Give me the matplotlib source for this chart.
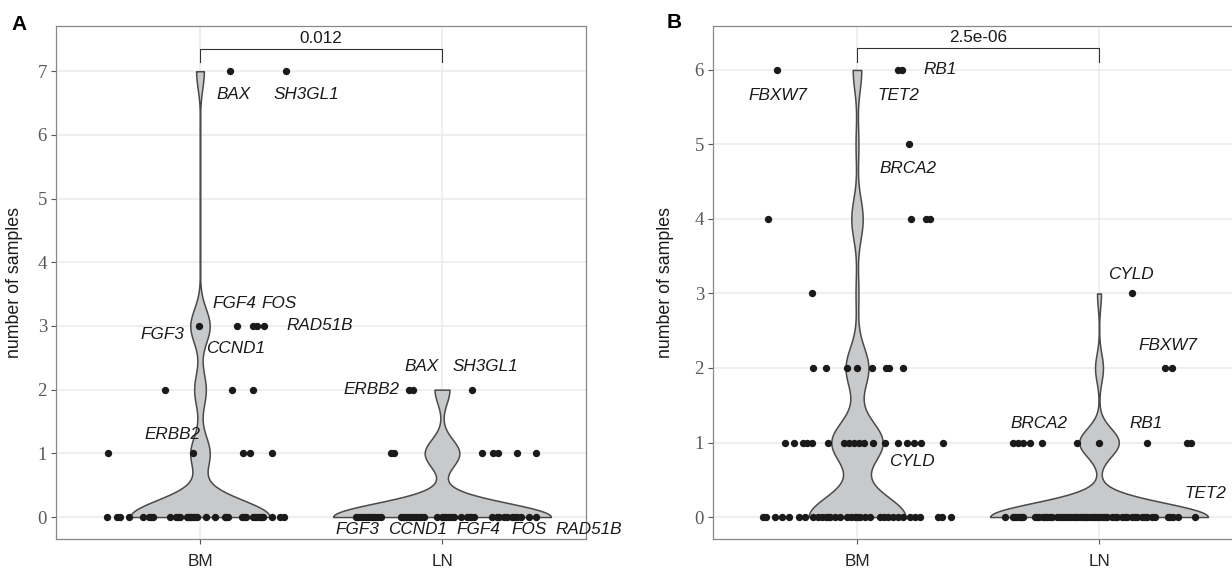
import numpy as np
import matplotlib
matplotlib.use("Agg")
import matplotlib.pyplot as plt

groups = ["BM", "LN"]

# panel A: number of samples per gene, with horizontal jitter offsets
a_bm_n = [0] * 36 + [1] * 5 + [2] * 3 + [3] * 5 + [7] * 2
a_bm_dx = [-0.383, -0.342, -0.329, -0.292, -0.235, -0.210, -0.193, -0.123, -0.099,
           -0.082, -0.053, -0.041, -0.029, -0.012, 0.025, 0.062, 0.103, 0.115,
           0.173, 0.189, 0.218, 0.235, 0.247, 0.259, 0.296, 0.329, 0.346,
           -0.202, -0.091, -0.049, -0.021, 0.107, 0.181, 0.226, 0.251, -0.037,
           -0.379, -0.029, 0.177, 0.206, 0.296,
           -0.144, 0.132, 0.218,
           -0.004, 0.152, 0.218, 0.235, 0.263,
           0.123, 0.354]
a_ln_n = [0] * 44 + [1] * 7 + [2] * 3
a_ln_dx = [-0.354, -0.333, -0.313, -0.292, -0.276, -0.251, -0.169, -0.148, -0.128,
           -0.107, -0.095, -0.074, -0.021, 0.0, 0.016, 0.037, 0.049, 0.078,
           0.103, 0.119, 0.132, 0.206, 0.226, 0.255, 0.267, 0.288, 0.309,
           0.325, 0.358, 0.387,
           -0.346, -0.325, -0.305, -0.284, -0.263, -0.160, -0.136, -0.115,
           -0.086, 0.008, 0.029, 0.111, 0.235, 0.296,
           -0.210, -0.198, 0.165, 0.210, 0.230, 0.309, 0.387,
           -0.136, -0.119, 0.123]

# panel B
b_bm_n = [0] * 34 + [1] * 18 + [2] * 8 + [3] + [4] * 4 + [5] + [6] * 3
b_bm_dx = [-0.388, -0.376, -0.339, -0.310, -0.281, -0.240, -0.215, -0.182, -0.161,
           -0.145, -0.128, -0.112, -0.091, -0.070, -0.041, -0.025, -0.008, 0.012,
           0.033, 0.054, 0.095, 0.112, 0.128, 0.149, 0.169, 0.190, 0.219, 0.240,
           0.260, 0.335, 0.351, 0.388, -0.120, 0.0,
           -0.298, -0.260, -0.223, -0.207, -0.186, -0.120, -0.054, -0.033, -0.012,
           0.008, 0.029, 0.066, 0.116, 0.169, 0.207, 0.236, 0.264, 0.355,
           -0.182, -0.128, -0.041, 0.0, 0.062, 0.120, 0.132, 0.190,
           -0.186,
           -0.368, 0.223, 0.285, 0.302,
           0.215,
           -0.331, 0.169, 0.186]
b_ln_n = [0] * 55 + [1] * 10 + [2] * 2 + [3]
b_ln_dx = [-0.388, -0.355, -0.339, -0.326, -0.314, -0.264, -0.248, -0.231, -0.215,
           -0.194, -0.174, -0.153, -0.132, -0.120, -0.107, -0.091, -0.079, -0.066,
           -0.050, -0.037, -0.025, -0.008, 0.004, 0.017, 0.033, 0.054, 0.074,
           0.095, 0.116, 0.136, 0.157, 0.178, 0.198, 0.219, 0.231, 0.285, 0.306,
           0.326, 0.397,
           -0.347, -0.322, -0.256, -0.223, -0.202, -0.161, -0.140, -0.099, -0.058,
           -0.017, 0.025, 0.066, 0.107, 0.149, 0.190, 0.293,
           -0.355, -0.335, -0.314, -0.285, -0.236, -0.091, 0.0, 0.198, 0.364, 0.380,
           0.273, 0.302,
           0.136]

# gene labels (text, x, y)
a_labels = [("BAX", 1.140, 6.64), ("SH3GL1", 1.440, 6.64), ("FGF4", 1.144, 3.36),
            ("FOS", 1.325, 3.36), ("FGF3", 0.844, 2.87), ("CCND1", 1.148, 2.65),
            ("RAD51B", 1.494, 3.0), ("ERBB2", 0.885, 1.29),
            ("BAX", 1.914, 2.37), ("SH3GL1", 2.181, 2.37), ("ERBB2", 1.708, 2.01),
            ("FGF3", 1.650, -0.20), ("CCND1", 1.897, -0.20), ("FGF4", 2.152, -0.20),
            ("FOS", 2.358, -0.20), ("RAD51B", 2.605, -0.20)]
b_labels = [("FBXW7", 0.674, 5.66), ("TET2", 1.169, 5.66), ("RB1", 1.343, 6.0),
            ("BRCA2", 1.211, 4.68), ("CYLD", 1.227, 0.74), ("CYLD", 2.132, 3.25),
            ("FBXW7", 2.285, 2.30), ("BRCA2", 1.752, 1.26), ("RB1", 2.194, 1.26),
            ("TET2", 2.438, 0.32)]

pvals = ["0.012", "2.5e-06"]

W, H = 1232, 569
fig = plt.figure(figsize=(W / 100, H / 100), dpi=100)


def violin(ax, vals, pos, bw, halfw):
    vals = np.asarray(vals, float)
    yy = np.linspace(vals.min(), vals.max(), 512)
    d = np.exp(-0.5 * ((yy[:, None] - vals[None, :]) / bw) ** 2).sum(1)
    d = d / d.max() * halfw
    ax.fill_betweenx(yy, pos - d, pos + d, facecolor="#c8c9cb",
                     edgecolor="#4a4a4a", linewidth=1.1, zorder=2)


def panel(ax, data, bws, widths, labels, pval, ylim, ymax_tick, brk, ylab_x):
    ax.set_xlim(0.405, 2.595)
    ax.set_ylim(*ylim)
    for i, (vals, dx) in enumerate(data):
        violin(ax, vals, i + 1, bws[i], widths[i])
        ax.scatter(i + 1 + np.array(dx), vals, s=28, color="#1a1a1a",
                   linewidths=0, zorder=3)
    for txt, x, y in labels:
        ax.text(x, y, txt, ha="center", va="center", style="italic",
                fontsize=12.3, family="Liberation Sans", color="#1a1a1a", zorder=4)
    y0, y1, ytx = brk
    ax.plot([1, 1, 2, 2], [y0, y1, y1, y0], color="#333333", lw=0.8, zorder=4)
    ax.text(1.5, ytx, pval, ha="center", va="center", fontsize=12.3,
            family="Liberation Sans", color="#1a1a1a")
    ax.set_xticks([1, 2])
    ax.set_xticklabels(groups, family="Liberation Sans", fontsize=12.3,
                       color="#262626")
    ax.set_yticks(range(0, ymax_tick + 1))
    for t in ax.get_yticklabels():
        t.set_family("Liberation Serif")
        t.set_fontsize(13.5)
        t.set_color("#5a5a5a")
    ax.tick_params(axis="both", length=3.5, width=0.8, color="#555555")
    ax.tick_params(axis="x", pad=7)
    ax.tick_params(axis="y", pad=3)
    ax.grid(color="#ebebeb", linewidth=1.1)
    ax.set_axisbelow(True)
    for s in ax.spines.values():
        s.set_color("#888888")
        s.set_linewidth(0.9)
    ax.set_ylabel("number of samples", family="Liberation Sans", fontsize=12.8,
                  color="#1a1a1a")
    ax.yaxis.set_label_coords(ylab_x, 0.5)


axA = fig.add_axes([56 / W, 1 - 539 / H, 530 / W, 513 / H])
panel(axA, [(a_bm_n, a_bm_dx), (a_ln_n, a_ln_dx)], [0.27, 0.22], [0.288, 0.45],
      a_labels, pvals[0], (-0.345, 7.71), 7, (7.14, 7.35, 7.52), -0.062)

axB = fig.add_axes([713 / W, 1 - 539 / H, 530 / W, 513 / H])
panel(axB, [(b_bm_n, b_bm_dx), (b_ln_n, b_ln_dx)], [0.28, 0.19], [0.2, 0.45],
      b_labels, pvals[1], (-0.295, 6.59), 6, (6.11, 6.30, 6.43), -0.074)

fig.text(11 / W, 1 - 25 / H, "A", fontsize=15, fontweight="bold",
         family="Liberation Sans", va="center")
fig.text(667 / W, 1 - 23 / H, "B", fontsize=15, fontweight="bold",
         family="Liberation Sans", va="center")

fig.savefig("out.png", dpi=100)
